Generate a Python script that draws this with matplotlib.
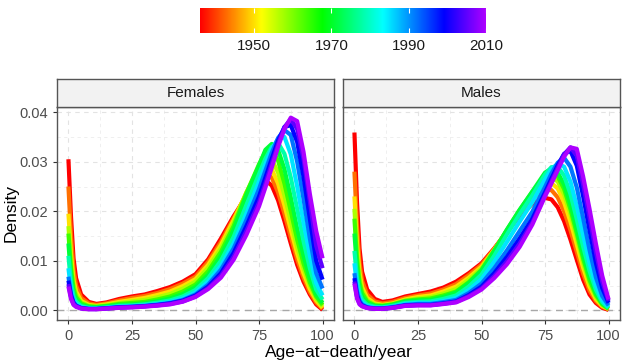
import numpy as np
import matplotlib.pyplot as plt
from matplotlib.colors import ListedColormap, hsv_to_rgb

plt.rcParams['font.family'] = ['Liberation Sans', 'DejaVu Sans']

# age grid shared by all curves
ages = [0, 1, 2, 3, 5, 8, 11, 15, 20, 25, 30, 35, 40, 45, 50, 55, 60, 65, 70, 75,
        77.5, 80, 82.5, 85, 87.5, 90, 92.5, 95, 97.5, 100]
years = [1936, 1943, 1950, 1957, 1964, 1971, 1978, 1985, 1992, 1999, 2005, 2010]
year_ticks = [1950, 1970, 1990, 2010]

# densities, in units of 1e-3
female_1936 = [30.5, 19.0, 10.5, 6.5, 3.2, 1.7, 1.3, 1.6, 2.3, 2.8, 3.2, 3.9, 4.7, 5.8, 7.3, 10.3, 14.5, 19.0, 23.0, 25.8, 26.3, 25.2, 22.2, 18.0, 13.5, 9.2, 5.8, 3.2, 1.2, 0.1]
female_1943 = [25.0, 15.0, 8.2, 5.0, 2.5, 1.4, 1.1, 1.4, 2.0, 2.5, 2.9, 3.5, 4.3, 5.4, 6.8, 9.8, 13.8, 18.6, 23.4, 27.0, 27.8, 26.8, 23.8, 19.5, 14.8, 10.3, 6.6, 3.7, 1.6, 0.3]
female_1950 = [19.5, 11.5, 6.2, 3.8, 1.9, 1.1, 0.9, 1.2, 1.7, 2.1, 2.5, 3.1, 3.8, 4.9, 6.3, 9.2, 13.2, 18.2, 23.7, 28.0, 29.2, 28.5, 25.6, 21.2, 16.3, 11.5, 7.5, 4.3, 2.0, 0.5]
female_1957 = [17.0, 9.8, 5.2, 3.2, 1.6, 0.95, 0.8, 1.05, 1.5, 1.8, 2.1, 2.65, 3.3, 4.4, 5.8, 8.6, 12.5, 17.6, 23.8, 29.0, 30.8, 30.5, 27.8, 23.2, 18.0, 12.8, 8.5, 5.0, 2.4, 0.8]
female_1964 = [15.5, 8.5, 4.4, 2.7, 1.4, 0.8, 0.7, 0.9, 1.3, 1.5, 1.7, 2.2, 2.8, 3.8, 5.2, 7.9, 11.8, 17.0, 23.6, 29.5, 32.0, 32.5, 30.2, 25.6, 20.0, 14.3, 9.5, 5.6, 2.8, 1.1]
female_1971 = [13.5, 7.0, 3.6, 2.2, 1.1, 0.7, 0.6, 0.8, 1.1, 1.2, 1.4, 1.85, 2.4, 3.3, 4.7, 7.2, 11.0, 16.2, 23.2, 29.2, 32.4, 33.6, 32.4, 28.5, 22.8, 16.5, 11.0, 6.5, 3.2, 1.5]
female_1978 = [11.0, 5.5, 2.8, 1.7, 0.85, 0.5, 0.45, 0.6, 0.9, 1.0, 1.2, 1.55, 2.0, 2.8, 4.1, 6.5, 10.0, 14.8, 21.2, 27.5, 30.6, 33.0, 33.8, 31.6, 26.8, 20.5, 14.0, 8.5, 4.2, 2.2]
female_1985 = [8.5, 4.2, 2.1, 1.3, 0.65, 0.4, 0.35, 0.5, 0.75, 0.85, 1.0, 1.3, 1.7, 2.4, 3.6, 5.8, 9.0, 13.5, 19.5, 26.0, 29.5, 32.6, 34.6, 35.0, 31.5, 25.0, 17.8, 11.0, 5.5, 3.0]
female_1992 = [6.8, 3.4, 1.7, 1.0, 0.5, 0.3, 0.3, 0.45, 0.65, 0.75, 0.9, 1.15, 1.5, 2.1, 3.2, 5.2, 8.2, 12.5, 18.2, 24.5, 28.2, 31.8, 34.8, 36.4, 35.4, 30.0, 22.5, 14.5, 7.5, 4.4]
female_1999 = [6.0, 3.0, 1.5, 0.9, 0.45, 0.28, 0.28, 0.42, 0.6, 0.7, 0.85, 1.08, 1.4, 1.95, 3.0, 4.8, 7.5, 11.6, 17.0, 23.0, 26.8, 30.6, 34.3, 37.0, 37.4, 34.0, 27.0, 18.5, 10.0, 6.2]
female_2005 = [5.3, 2.6, 1.3, 0.8, 0.4, 0.25, 0.25, 0.38, 0.55, 0.65, 0.8, 1.0, 1.3, 1.8, 2.8, 4.5, 7.0, 10.8, 16.0, 21.8, 25.6, 29.6, 33.6, 37.0, 38.6, 36.6, 30.6, 22.0, 13.0, 8.5]
female_2010 = [4.8, 2.3, 1.1, 0.7, 0.35, 0.22, 0.22, 0.35, 0.5, 0.6, 0.75, 0.95, 1.2, 1.75, 2.7, 4.3, 6.6, 10.2, 15.2, 21.0, 24.8, 28.8, 33.0, 36.6, 38.9, 38.2, 32.0, 23.5, 16.0, 10.5]

male_1936 = [35.9, 22.0, 12.5, 7.8, 4.2, 2.3, 1.7, 2.0, 2.8, 3.3, 3.8, 4.6, 5.8, 7.5, 9.5, 12.5, 15.8, 19.0, 21.5, 22.7, 22.4, 20.8, 18.0, 14.3, 10.2, 6.2, 3.2, 1.5, 0.5, 0.1]
male_1943 = [28.0, 17.0, 9.6, 6.0, 3.2, 1.8, 1.4, 1.7, 2.5, 3.0, 3.4, 4.2, 5.3, 7.1, 9.2, 12.4, 16.0, 19.6, 22.6, 24.2, 24.3, 22.8, 20.0, 16.2, 11.8, 7.4, 4.0, 1.9, 0.7, 0.2]
male_1950 = [23.0, 13.5, 7.6, 4.7, 2.5, 1.4, 1.1, 1.4, 2.2, 2.7, 3.0, 3.8, 4.8, 6.6, 8.8, 12.2, 16.0, 19.9, 23.2, 25.3, 25.7, 24.6, 21.8, 17.9, 13.3, 8.6, 4.8, 2.3, 0.9, 0.3]
male_1957 = [20.5, 11.8, 6.5, 4.0, 2.1, 1.2, 1.0, 1.3, 2.0, 2.4, 2.7, 3.4, 4.3, 6.2, 8.5, 12.1, 16.1, 20.1, 23.6, 26.4, 26.9, 26.0, 23.4, 19.4, 14.6, 9.6, 5.5, 2.7, 1.1, 0.3]
male_1964 = [18.5, 10.4, 5.6, 3.5, 1.8, 1.0, 0.9, 1.2, 1.9, 2.2, 2.4, 3.0, 3.8, 5.7, 8.2, 12.0, 16.2, 20.2, 23.9, 27.2, 27.9, 27.0, 24.5, 20.4, 15.5, 10.4, 6.1, 3.1, 1.2, 0.3]
male_1971 = [15.5, 8.5, 4.5, 2.8, 1.5, 0.9, 0.8, 1.1, 1.8, 2.0, 2.1, 2.7, 3.6, 5.5, 8.0, 12.0, 16.3, 20.3, 24.0, 27.8, 28.6, 27.8, 25.4, 21.4, 16.4, 11.2, 6.8, 3.5, 1.4, 0.4]
male_1978 = [12.0, 6.5, 3.4, 2.1, 1.1, 0.7, 0.6, 0.9, 1.5, 1.7, 1.8, 2.3, 3.0, 4.8, 7.2, 11.0, 15.3, 19.4, 23.2, 27.4, 28.9, 29.0, 27.2, 23.5, 18.4, 12.9, 8.0, 4.2, 1.7, 0.5]
male_1985 = [9.5, 5.0, 2.6, 1.6, 0.85, 0.5, 0.5, 0.75, 1.3, 1.5, 1.5, 1.9, 2.5, 4.1, 6.3, 9.8, 13.8, 17.9, 21.8, 26.4, 28.5, 29.6, 29.0, 26.0, 21.0, 15.2, 9.6, 5.1, 2.1, 0.7]
male_1992 = [7.5, 3.8, 2.0, 1.2, 0.65, 0.4, 0.4, 0.65, 1.1, 1.3, 1.3, 1.65, 2.1, 3.5, 5.4, 8.5, 12.1, 16.0, 19.9, 24.9, 27.6, 29.8, 30.8, 29.0, 24.8, 18.6, 12.2, 6.7, 2.9, 1.0]
male_1999 = [6.5, 3.1, 1.6, 1.0, 0.55, 0.35, 0.35, 0.55, 1.0, 1.1, 1.1, 1.4, 1.8, 3.1, 4.8, 7.5, 10.8, 14.5, 18.5, 23.8, 26.6, 29.3, 31.6, 32.2, 29.2, 23.0, 16.2, 9.6, 4.5, 1.5]
male_2005 = [5.8, 2.7, 1.4, 0.9, 0.5, 0.32, 0.32, 0.5, 0.95, 1.05, 1.05, 1.33, 1.7, 2.9, 4.4, 6.9, 9.9, 13.5, 17.7, 23.3, 26.0, 28.8, 31.5, 32.9, 31.2, 25.4, 18.8, 11.8, 5.8, 1.9]
male_2010 = [5.4, 2.4, 1.2, 0.8, 0.45, 0.3, 0.3, 0.5, 0.9, 1.0, 1.0, 1.27, 1.6, 2.7, 4.2, 6.5, 9.3, 12.8, 17.3, 23.0, 25.6, 28.3, 31.0, 32.9, 32.6, 27.0, 20.5, 13.5, 7.0, 2.2]

females = [female_1936, female_1943, female_1950, female_1957, female_1964, female_1971,
           female_1978, female_1985, female_1992, female_1999, female_2005, female_2010]
males = [male_1936, male_1943, male_1950, male_1957, male_1964, male_1971,
         male_1978, male_1985, male_1992, male_1999, male_2005, male_2010]

# rainbow palette, red -> violet
hues = np.linspace(0, 0.78, 256)
cmap = ListedColormap(hsv_to_rgb(np.column_stack([hues, np.ones(256), np.ones(256)])))
y0, y1 = years[0], years[-1]

fig = plt.figure(figsize=(6.23, 3.63), dpi=100)
W, H = 623, 363

def px_axes(x0, ytop, x1, ybot):
    return fig.add_axes([x0 / W, 1 - ybot / H, (x1 - x0) / W, (ybot - ytop) / H])

panels = [("Females", females, 57), ("Males", males, 343)]
for i, (name, curves, x0) in enumerate(panels):
    ax = px_axes(x0, 107, x0 + 277, 320)
    ax.set_xlim(-4.5, 104.5)
    ax.set_ylim(-0.00195, 0.04105)
    ax.set_xticks([0, 25, 50, 75, 100])
    ax.set_xticks([12.5, 37.5, 62.5, 87.5], minor=True)
    ax.set_yticks([0, 0.01, 0.02, 0.03, 0.04])
    ax.set_yticks([0.005, 0.015, 0.025, 0.035], minor=True)
    ax.grid(which='major', color='#e3e3e3', linestyle=(0, (4, 4)), lw=0.8)
    ax.grid(which='minor', color='#ededed', linestyle=(0, (4, 4)), lw=0.6)
    ax.set_axisbelow(True)
    ax.axhline(0, color='#a8a8a8', linestyle=(0, (5, 4)), lw=1.0, zorder=1)
    for yr, dens in zip(years, curves):
        ax.plot(ages, np.array(dens) / 1000, color=cmap((yr - y0) / (y1 - y0)),
                lw=3.0, solid_capstyle='butt', solid_joinstyle='round', zorder=2)
    for s in ax.spines.values():
        s.set_color('#555555')
        s.set_linewidth(1.0)
    ax.tick_params(which='major', length=3, color='#333333', labelcolor='#4d4d4d', labelsize=10.5)
    ax.tick_params(which='minor', length=0)
    if i == 0:
        ax.set_yticklabels(['0.00', '0.01', '0.02', '0.03', '0.04'])
    else:
        ax.set_yticklabels([])
        ax.tick_params(axis='y', length=0)

    strip = px_axes(x0, 79, x0 + 277, 107)
    strip.set_facecolor('#f2f2f2')
    strip.set_xticks([])
    strip.set_yticks([])
    for s in strip.spines.values():
        s.set_color('#555555')
        s.set_linewidth(1.0)
    strip.text(0.5, 0.5, name, ha='center', va='center', fontsize=11, color='#1a1a1a',
               transform=strip.transAxes)

fig.text(339 / W, 1 - 352 / H, "Age\u2212at\u2212death/year", ha='center', va='center', fontsize=12.5)
fig.text(11 / W, 1 - 213 / H, "Density", ha='center', va='center', rotation=90, fontsize=12.5)

# colour bar
cb = px_axes(200, 8, 486, 33)
cb.imshow(np.linspace(0, 1, 256)[None, :], aspect='auto', cmap=cmap, extent=[y0, y1, 0, 1])
cb.set_xlim(y0, y1)
cb.set_ylim(0, 1)
cb.vlines(year_ticks, 0, 0.2, color='white', lw=0.8)
cb.vlines(year_ticks, 0.8, 1, color='white', lw=0.8)
cb.set_yticks([])
cb.set_xticks(year_ticks)
cb.tick_params(length=0, labelsize=11, labelcolor='#1a1a1a', pad=4)
for s in cb.spines.values():
    s.set_visible(False)

fig.savefig('out.png', dpi=100)
